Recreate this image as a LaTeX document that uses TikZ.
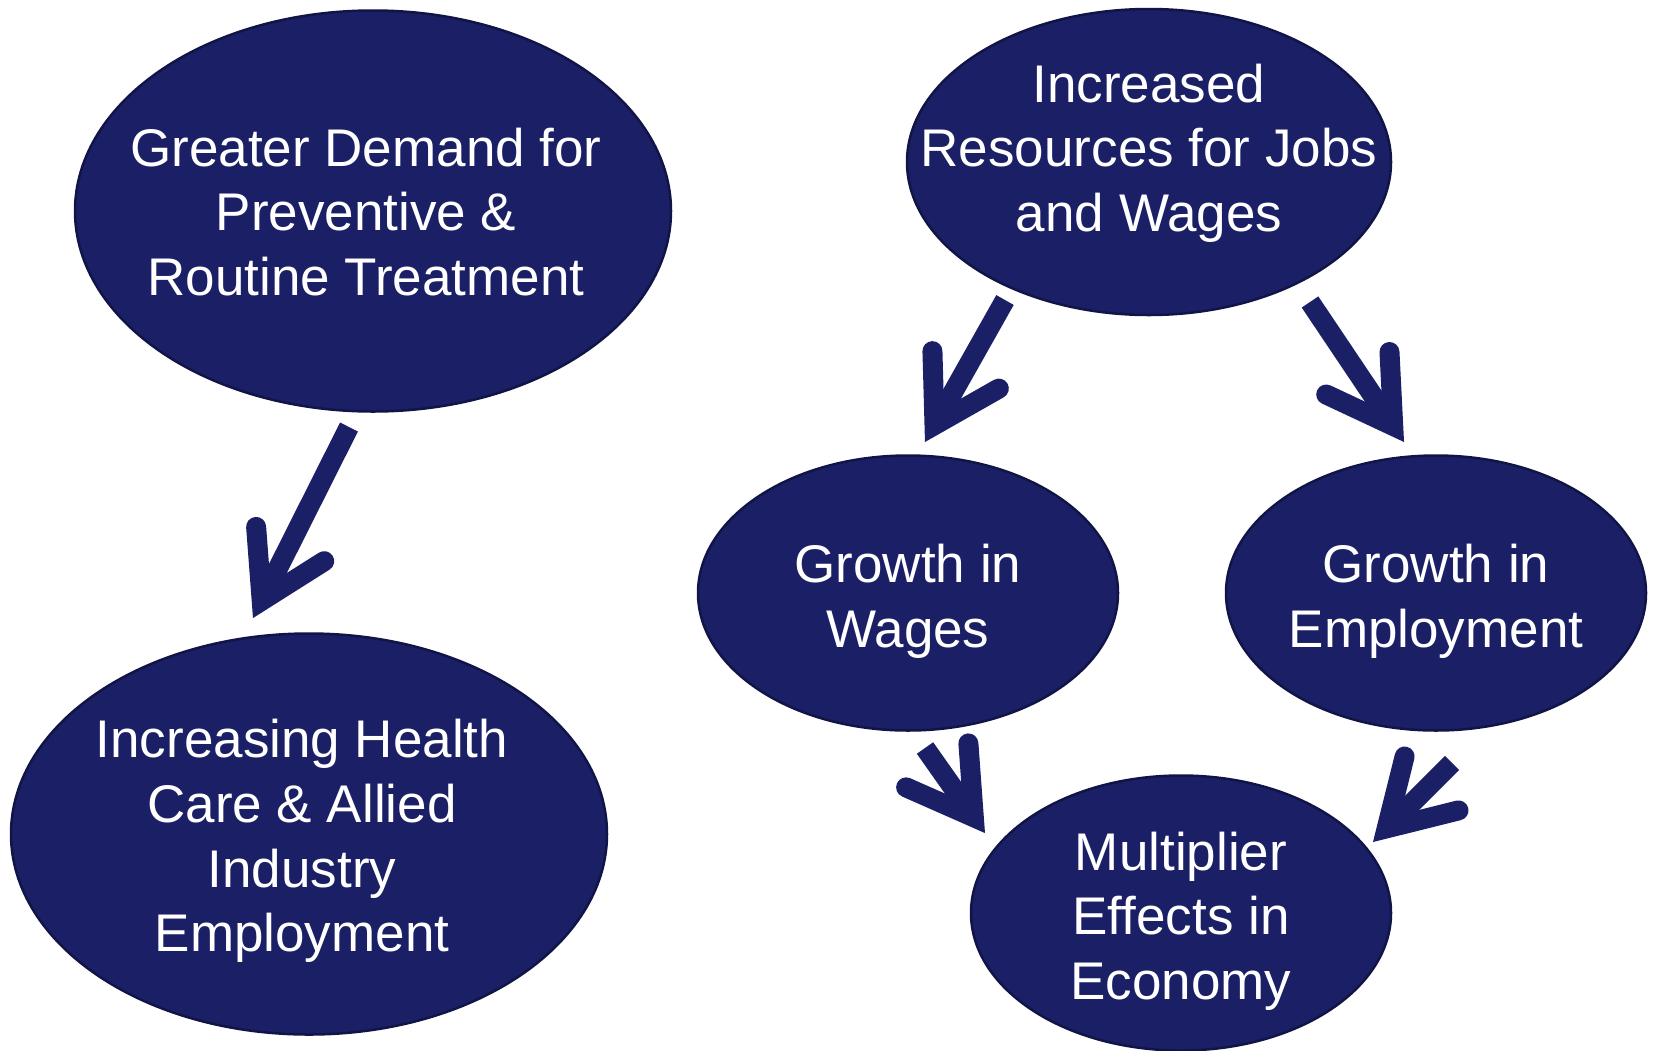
\documentclass[tikz,border=0pt]{standalone}
\usepackage{fontspec}
\setmainfont{Liberation Sans}
\usetikzlibrary{calc,shapes.geometric}
\definecolor{bubbleblue}{RGB}{27,32,102}
\definecolor{bubbleedge}{RGB}{17,20,70}
\newlength{\BigWidth}
\newlength{\BigHeight}
\newlength{\MidWidth}
\newlength{\MidHeight}
\newlength{\SmallWidth}
\newlength{\SmallHeight}
\newlength{\BarbLength}
\setlength{\BigWidth}{596pt}
\setlength{\BigHeight}{401pt}
\setlength{\MidWidth}{484pt}
\setlength{\MidHeight}{306pt}
\setlength{\SmallWidth}{420pt}
\setlength{\SmallHeight}{275pt}
\setlength{\BarbLength}{74pt}
\tikzset{
  bubble/.style={draw=bubbleedge, fill=bubbleblue, ellipse, line width=2.5pt, inner sep=0pt},
  big bubble/.style={bubble, minimum width=\BigWidth, minimum height=\BigHeight},
  mid bubble/.style={bubble, minimum width=\MidWidth, minimum height=\MidHeight},
  small bubble/.style={bubble, minimum width=\SmallWidth, minimum height=\SmallHeight},
  bubble text/.style={text=white, align=center, inner sep=0pt, font=\fontsize{53}{64.7}\selectfont},
  flow/.style={draw=bubbleblue, line width=20pt},
  flow head/.style={flow, line cap=round, line join=miter},
}

\begin{document}
\begin{tikzpicture}[x=1pt, y=-1pt]
  \useasboundingbox (0,0) rectangle (1656,1050);

  \node[big bubble, label={[bubble text, xshift=-7pt, yshift=-1pt]center:{Greater Demand for\\Preventive \&\\Routine Treatment}}] (demand) at (373,211) {};
  \node[big bubble, label={[bubble text, xshift=-7pt, yshift=-7pt]center:{Increasing Health\\Care \& Allied\\Industry\\Employment}}] (industry) at (309,834) {};
  \node[mid bubble, label={[bubble text, yshift=9pt]center:{Increased\\Resources for Jobs\\and Wages}}] (resources) at (1149,162) {};
  \node[small bubble, label={[bubble text, yshift=-8pt]center:{Growth in\\Wages}}] (wages) at (908,593) {};
  \node[small bubble, label={[bubble text, yshift=-8pt]center:{Growth in\\Employment}}] (employment) at (1436,593) {};
  \node[small bubble, label={[bubble text, yshift=-8pt]center:{Multiplier\\Effects in\\Economy}}] (multiplier) at (1181,913) {};

  \coordinate (demand-out) at (349,427);
  \coordinate (industry-in) at (261.7,600.7);
  \coordinate (resources-left) at (1005,300);
  \coordinate (wages-in) at (934.5,425.1);
  \coordinate (resources-right) at (1310,302);
  \coordinate (employment-in) at (1393.2,425.9);
  \coordinate (wages-out) at (925,748);
  \coordinate (multiplier-left) at (973.8,817.2);
  \coordinate (employment-out) at (1452,763);
  \coordinate (multiplier-right) at (1386.7,828.3);

  \foreach \from/\to in {demand-out/industry-in, resources-left/wages-in,
      resources-right/employment-in, wages-out/multiplier-left,
      employment-out/multiplier-right} {
    \draw[flow] (\from) -- (\to);
    \draw[flow head] ($(\to)!\BarbLength!31:(\from)$) -- (\to)
      -- ($(\to)!\BarbLength!-31:(\from)$);
  }
\end{tikzpicture}
\end{document}
